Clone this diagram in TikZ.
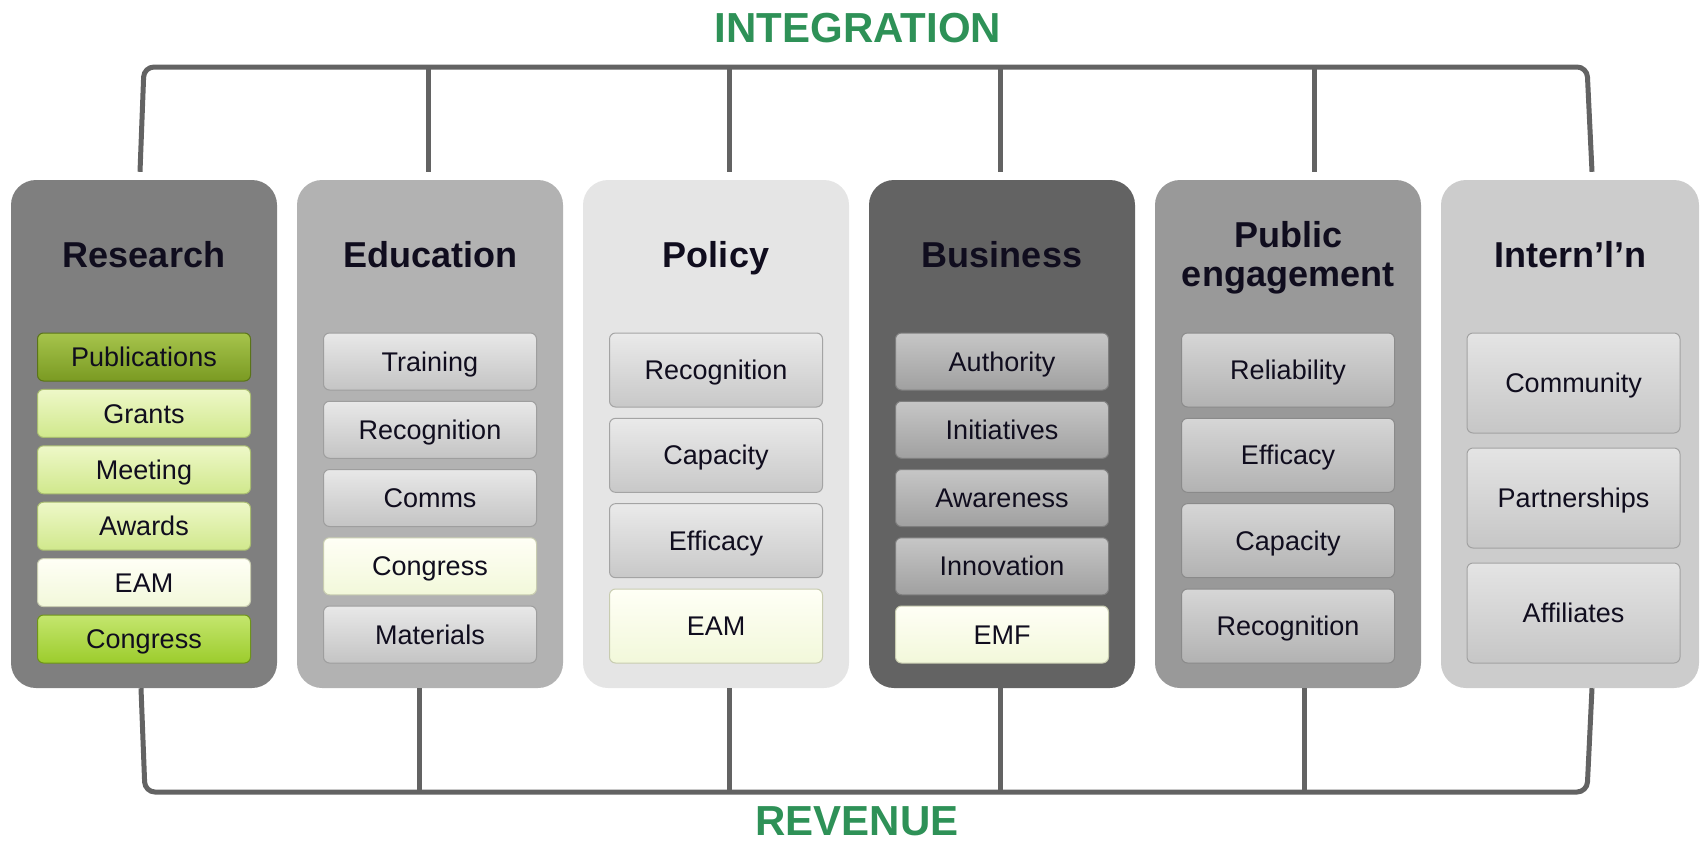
\documentclass[tikz,border=0pt]{standalone}
\usepackage{fontspec}
\setmainfont{Liberation Sans}
\definecolor{ink}{HTML}{100D1E}
\definecolor{conncol}{HTML}{636363}
\definecolor{green}{HTML}{2E9157}
\definecolor{colA}{HTML}{7F7F7F}
\definecolor{colB}{HTML}{B2B2B2}
\definecolor{colC}{HTML}{E5E5E5}
\definecolor{colD}{HTML}{636363}
\definecolor{colE}{HTML}{999999}
\definecolor{colF}{HTML}{CCCCCC}
\begin{document}
\begin{tikzpicture}[x=1pt,y=-1pt,
  col/.style={rectangle, rounded corners=25pt, minimum width=266pt, minimum height=508pt, inner sep=0pt},
  title/.style={font=\bfseries\fontsize{36}{39}\selectfont, text=ink, align=center, inner sep=0pt},
  item/.style={rectangle, rounded corners=6pt, minimum width=213pt, inner sep=0pt,
     font=\fontsize{27}{30}\selectfont, text=ink, line width=1pt, text height=19.3pt, text depth=0pt},
  ig/.style n args={3}{top color=#1, bottom color=#2, draw=#3},
  gB/.style={ig={E8E8E8}{C4C4C4}{9E9E9E}},
  gC/.style={ig={EAEAEA}{C8C8C8}{A4A4A4}},
  gD/.style={ig={C6C6C6}{A0A0A0}{7E7E7E}},
  gE/.style={ig={D6D6D6}{B2B2B2}{8A8A8A}},
  gF/.style={ig={E4E4E4}{C6C6C6}{A2A2A2}},
  cream/.style={ig={FFFFF6}{F2F8DA}{C8CCB0}},
  lgreen/.style={ig={EEF8C8}{D0E88C}{A8BC70}},
  dgreen/.style={ig={A6C44C}{7A9A22}{5A7418}},
  bgreen/.style={ig={C4E66E}{9CCC2C}{6E9418}},
  conn/.style={draw=conncol, line width=5pt},
  big/.style={font=\bfseries\fontsize{42}{46}\selectfont, text=green, inner sep=0pt}
]
\useasboundingbox (0,0) rectangle (1700,844);
\definecolor{E8E8E8}{HTML}{E8E8E8}\definecolor{C4C4C4}{HTML}{C4C4C4}\definecolor{9E9E9E}{HTML}{9E9E9E}
\definecolor{EAEAEA}{HTML}{EAEAEA}\definecolor{C8C8C8}{HTML}{C8C8C8}\definecolor{A4A4A4}{HTML}{A4A4A4}
\definecolor{C6C6C6}{HTML}{C6C6C6}\definecolor{A0A0A0}{HTML}{A0A0A0}\definecolor{7E7E7E}{HTML}{7E7E7E}
\definecolor{D6D6D6}{HTML}{D6D6D6}\definecolor{B2B2B2}{HTML}{B2B2B2}\definecolor{8A8A8A}{HTML}{8A8A8A}
\definecolor{E4E4E4}{HTML}{E4E4E4}\definecolor{A2A2A2}{HTML}{A2A2A2}
\definecolor{FFFFF6}{HTML}{FFFFF6}\definecolor{F2F8DA}{HTML}{F2F8DA}\definecolor{C8CCB0}{HTML}{C8CCB0}
\definecolor{EEF8C8}{HTML}{EEF8C8}\definecolor{D0E88C}{HTML}{D0E88C}\definecolor{A8BC70}{HTML}{A8BC70}
\definecolor{A6C44C}{HTML}{A6C44C}\definecolor{7A9A22}{HTML}{7A9A22}\definecolor{5A7418}{HTML}{5A7418}
\definecolor{C4E66E}{HTML}{C4E66E}\definecolor{9CCC2C}{HTML}{9CCC2C}\definecolor{6E9418}{HTML}{6E9418}

% columns
\node[col, fill=colA] (cA) at (144,434) {};
\node[col, fill=colB] (cB) at (430,434) {};
\node[col, fill=colC] (cC) at (716,434) {};
\node[col, fill=colD] (cD) at (1002,434) {};
\node[col, fill=colE] (cE) at (1288,434) {};
\node[col, fill=colF, minimum width=258pt] (cF) at (1570,434) {};

% titles
\node[title, anchor=base] (hA) at (144,267) {Research};
\node[title, anchor=base] (hB) at (430,267) {Education};
\node[title, anchor=base] (hC) at (716,267) {Policy};
\node[title, anchor=base] (hD) at (1002,267) {Business};
\node[title] (hE) at (1288,258) {Public\\engagement};
\node[title, anchor=base] (hF) at (1570,267) {Intern’l’n};

% Research items
\node[item, minimum height=48pt, dgreen] (a1) at (144,357) {Publications};
\node[item, minimum height=48pt, lgreen] (a2) at (144,413.4) {Grants};
\node[item, minimum height=48pt, lgreen] (a3) at (144,469.8) {Meeting};
\node[item, minimum height=48pt, lgreen] (a4) at (144,526.2) {Awards};
\node[item, minimum height=48pt, cream] (a5) at (144,582.6) {EAM};
\node[item, minimum height=48pt, bgreen] (a6) at (144,639) {Congress};

% Education items
\node[item, minimum height=57pt, gB] (b1) at (430,361.5) {Training};
\node[item, minimum height=57pt, gB] (b2) at (430,429.75) {Recognition};
\node[item, minimum height=57pt, gB] (b3) at (430,498) {Comms};
\node[item, minimum height=57pt, cream] (b4) at (430,566.25) {Congress};
\node[item, minimum height=57pt, gB] (b5) at (430,634.5) {Materials};

% Policy items
\node[item, minimum height=74pt, gC] (c1) at (716,370) {Recognition};
\node[item, minimum height=74pt, gC] (c2) at (716,455.33) {Capacity};
\node[item, minimum height=74pt, gC] (c3) at (716,540.67) {Efficacy};
\node[item, minimum height=74pt, cream] (c4) at (716,626) {EAM};

% Business items
\node[item, minimum height=57pt, gD] (d1) at (1002,361.5) {Authority};
\node[item, minimum height=57pt, gD] (d2) at (1002,429.75) {Initiatives};
\node[item, minimum height=57pt, gD] (d3) at (1002,498) {Awareness};
\node[item, minimum height=57pt, gD] (d4) at (1002,566.25) {Innovation};
\node[item, minimum height=57pt, cream] (d5) at (1002,634.5) {EMF};

% Public engagement items
\node[item, minimum height=74pt, gE] (e1) at (1288,370) {Reliability};
\node[item, minimum height=74pt, gE] (e2) at (1288,455.33) {Efficacy};
\node[item, minimum height=74pt, gE] (e3) at (1288,540.67) {Capacity};
\node[item, minimum height=74pt, gE] (e4) at (1288,626) {Recognition};

% Intern'l'n items
\node[item, minimum height=100pt, gF] (f1) at (1573.5,383) {Community};
\node[item, minimum height=100pt, gF] (f2) at (1573.5,498) {Partnerships};
\node[item, minimum height=100pt, gF] (f3) at (1573.5,613) {Affiliates};

% labels
\node[big, anchor=base] (integ) at (858,42) {INTEGRATION};
\node[big, anchor=base] (rev) at (857,835) {REVENUE};

% top bracket
\coordinate (tA) at (140,67);
\coordinate (tL) at (144,67);
\coordinate (tB) at (428,67);
\coordinate (tC) at (729,67);
\coordinate (tD) at (1000,67);
\coordinate (tE) at (1314,67);
\coordinate (tR) at (1587,67);
\coordinate (tF) at (1592,67);
\draw[conn, rounded corners=10pt] ([yshift=8pt]cA.north -| tA) -- (tL) -- (tR) -- ([yshift=8pt]cF.north -| tF);
\draw[conn] ([yshift=8pt]cB.north -| tB) -- (tB);
\draw[conn] ([yshift=8pt]cC.north -| tC) -- (tC);
\draw[conn] ([yshift=8pt]cD.north -| tD) -- (tD);
\draw[conn] ([yshift=8pt]cE.north -| tE) -- (tE);

% bottom bracket
\coordinate (bA) at (141,792);
\coordinate (bL) at (145,792);
\coordinate (bB) at (419,792);
\coordinate (bC) at (729,792);
\coordinate (bD) at (1000,792);
\coordinate (bE) at (1304,792);
\coordinate (bR) at (1587,792);
\coordinate (bF) at (1592,792);
\draw[conn, rounded corners=10pt] (cA.south -| bA) -- (bL) -- (bR) -- (cF.south -| bF);
\draw[conn] (cB.south -| bB) -- (bB);
\draw[conn] (cC.south -| bC) -- (bC);
\draw[conn] (cD.south -| bD) -- (bD);
\draw[conn] (cE.south -| bE) -- (bE);
\end{tikzpicture}
\end{document}
